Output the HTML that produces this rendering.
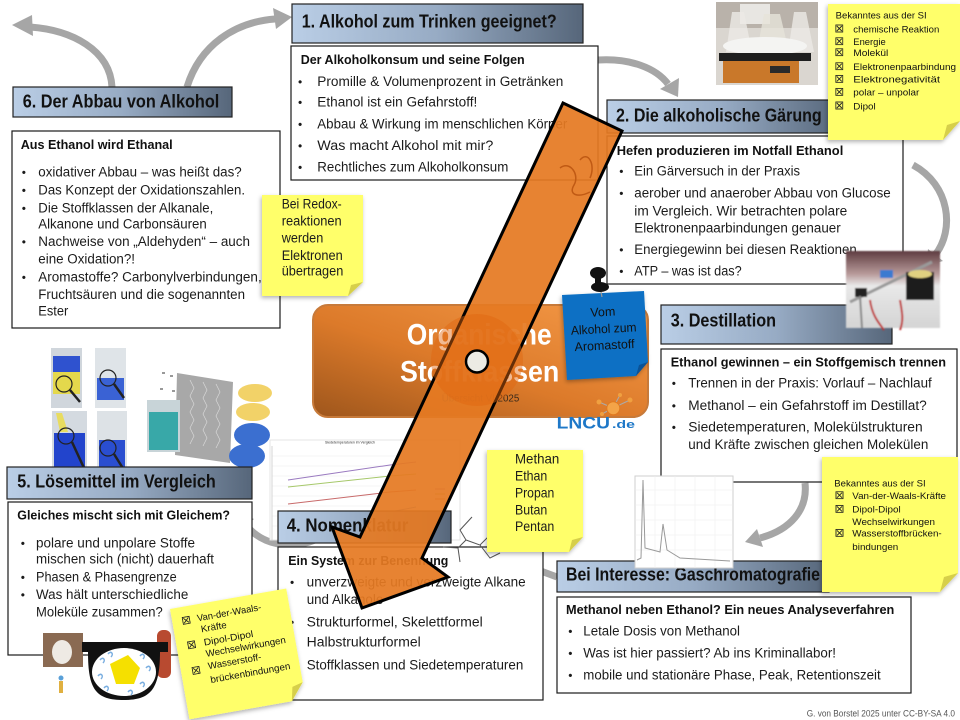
<!DOCTYPE html>
<html><head><meta charset="utf-8"><style>
html,body{margin:0;padding:0;background:#fff;}
svg{display:block;}
text{font-family:"Liberation Sans",sans-serif;}
.t{font-size:13.5px;fill:#1b1b1b}
.tb{font-size:13px;font-weight:bold;fill:#111}
.h{font-size:18px;font-weight:bold;fill:#111}
.bu{font-size:12px;fill:#1b1b1b}
.s{font-size:9.5px;fill:#111}
</style></head><body>
<svg width="960" height="720" viewBox="0 0 960 720" xmlns="http://www.w3.org/2000/svg">
<defs>
<linearGradient id="hg" x1="0" y1="0" x2="1" y2="0">
<stop offset="0" stop-color="#bacee6"/><stop offset="0.5" stop-color="#97abc4"/><stop offset="1" stop-color="#56667a"/>
</linearGradient>
<linearGradient id="og" x1="0" y1="1" x2="1" y2="0">
<stop offset="0" stop-color="#9e561c"/><stop offset="0.45" stop-color="#dc7a2a"/><stop offset="1" stop-color="#f59a48"/>
</linearGradient>
<linearGradient id="dg" x1="0" y1="0" x2="0" y2="1">
<stop offset="0" stop-color="#5e3c40"/><stop offset="0.3" stop-color="#b89a9a"/><stop offset="0.45" stop-color="#e8e8e8"/><stop offset="1" stop-color="#d4d4d4"/>
</linearGradient>
<filter id="sh" x="-20%" y="-20%" width="140%" height="140%"><feDropShadow dx="-1" dy="2" stdDeviation="2" flood-color="#000" flood-opacity="0.3"/></filter>
<filter id="bl" x="-10%" y="-10%" width="120%" height="120%"><feGaussianBlur stdDeviation="0.8"/></filter>
<symbol id="cb" viewBox="0 0 8 8" width="8" height="8"><rect x=".5" y=".5" width="7" height="7" fill="none" stroke="#222" stroke-width=".9"/><path d="M1.5 1.5L6.5 6.5M6.5 1.5L1.5 6.5" stroke="#222" stroke-width=".9"/></symbol>
</defs>

<!-- gray connector arrows -->
<g fill="none" stroke="#a6a6a6" stroke-width="7">
<path d="M112,87 C110,50 72,30 30,27"/>
<path d="M187,87 C200,45 235,22 275,19"/>
<path d="M598,60 C630,58 656,68 668,84"/>
<path d="M913,165 C950,185 955,230 935,255"/>
<path d="M805,483 C808,510 790,530 760,538"/>
<path d="M557,577 L530,567"/>
<path d="M315,540 C290,550 262,545 246,525"/>
</g>
<g fill="#a6a6a6">
<polygon points="12,25 32,15 33,36"/>
<polygon points="292,17 273,8 276,29"/>
<polygon points="678,97 679,78 660,89"/>
<polygon points="926,266 943,261 928,249"/>
<polygon points="745,542 763,547 757,529"/>
<polygon points="515,562 533,559 527,575"/>
<polygon points="236,512 254,519 238,531"/>
</g>

<!-- chart (nomenclature) -->
<g>
<rect x="270" y="440" width="190" height="100" fill="#fff" stroke="#e4e4e4"/>
<text x="325" y="443.5" font-size="3.5" fill="#333" textLength="50" lengthAdjust="spacingAndGlyphs">Siedetemperaturen im Vergleich</text>
<g stroke="#eeeeee" stroke-width=".6"><line x1="272" y1="456" x2="417" y2="456"/><line x1="272" y1="466" x2="417" y2="466"/><line x1="272" y1="476" x2="417" y2="476"/><line x1="272" y1="486" x2="417" y2="486"/><line x1="272" y1="496" x2="417" y2="496"/><line x1="272" y1="506" x2="417" y2="506"/><line x1="272" y1="516" x2="417" y2="516"/><line x1="272" y1="526" x2="417" y2="526"/></g>
<line x1="272" y1="446" x2="272" y2="540" stroke="#bbb" stroke-width=".6"/>
<path d="M288,480 L390,465 L416,462" stroke="#9a7ac0" stroke-width="1" fill="none"/>
<path d="M288,487 L390,476 L416,474" stroke="#a6c86a" stroke-width="1" fill="none"/>
<path d="M288,504 L390,492 L416,490" stroke="#c86a6a" stroke-width="1" fill="none"/>
<path d="M330,540 L390,512 L416,507" stroke="#6a9ad0" stroke-width="1" fill="none"/>
<g stroke-width="1"><line x1="435" y1="489" x2="445" y2="489" stroke="#9a7ac0"/><line x1="435" y1="494" x2="445" y2="494" stroke="#a6c86a"/><line x1="435" y1="499" x2="445" y2="499" stroke="#c86a6a"/></g>
</g>

<!-- jars images -->
<g>
<rect x="51" y="348" width="31" height="60" fill="#d0d6dc"/>
<rect x="53" y="356" width="27" height="16" fill="#2f52cf"/>
<rect x="53" y="372" width="27" height="22" fill="#e4d84c"/>
<rect x="95" y="348" width="31" height="60" fill="#dfe4e8"/>
<rect x="97" y="378" width="27" height="22" fill="#3a62d4"/>
<rect x="52" y="411" width="35" height="61" fill="#d4dae0"/>
<rect x="54" y="433" width="31" height="37" fill="#2244cc"/>
<polygon points="56,413 62,413 68,432 60,432" fill="#e8dc60"/>
<rect x="97" y="411" width="30" height="61" fill="#dde2e6"/>
<rect x="99" y="440" width="26" height="30" fill="#2a4ed0"/>
<g fill="none" stroke="#222" stroke-width="1.2">
<circle cx="64" cy="384" r="8"/><line x1="70" y1="390" x2="80" y2="402" stroke-width="2.5"/>
<circle cx="108" cy="378" r="8"/><line x1="114" y1="384" x2="124" y2="398" stroke-width="2.5"/>
<circle cx="66" cy="436" r="8"/><line x1="72" y1="442" x2="84" y2="468" stroke-width="2.5"/>
<circle cx="108" cy="448" r="8"/><line x1="114" y1="454" x2="124" y2="470" stroke-width="2.5"/>
</g>
<polygon points="177,373 233,382 230,463 175,455" fill="#a8a8a8"/>
<g stroke="#d8d8d8" stroke-width=".7" fill="none"><path d="M190,380 l4,8 l-4,8 l4,8 l-4,8 l4,8 l-4,8 l4,8 l-4,8"/><path d="M203,382 l4,8 l-4,8 l4,8 l-4,8 l4,8 l-4,8 l4,8 l-4,8"/><path d="M216,384 l4,8 l-4,8 l4,8 l-4,8 l4,8 l-4,8 l4,8 l-4,8"/></g>
<rect x="147" y="400" width="33" height="52" fill="#c8d4d8"/>
<rect x="149" y="412" width="29" height="38" fill="#38a8a8"/>
<g fill="#999"><rect x="162" y="372" width="3" height="2"/><rect x="170" y="375" width="3" height="2"/><rect x="160" y="388" width="3" height="2"/><rect x="172" y="390" width="3" height="2"/></g>
<ellipse cx="255" cy="393" rx="17" ry="9" fill="#f2d268"/>
<ellipse cx="253" cy="412" rx="17" ry="9" fill="#f2d268"/>
<ellipse cx="252" cy="435" rx="18" ry="12" fill="#3b6fd0"/>
<ellipse cx="247" cy="456" rx="18" ry="12" fill="#3b6fd0"/>
</g>

<!-- Section 1 -->
<rect x="292" y="4" width="291" height="39" fill="url(#hg)" stroke="#222" stroke-width="1.2"/>
<text class="h" x="301.7" y="27.5" textLength="255" lengthAdjust="spacingAndGlyphs">1. Alkohol zum Trinken geeignet?</text>
<rect x="291" y="46" width="307" height="134" fill="#fff" stroke="#1a1a1a" stroke-width="1.2"/>
<text class="tb" x="300.7" y="64" textLength="224" lengthAdjust="spacingAndGlyphs">Der Alkoholkonsum und seine Folgen</text>
<text class="bu" x="298" y="86">•</text><text class="t" x="317.3" y="86" textLength="246" lengthAdjust="spacingAndGlyphs">Promille &amp; Volumenprozent in Getränken</text>
<text class="bu" x="298" y="106.7">•</text><text class="t" x="317.3" y="106.7" textLength="160" lengthAdjust="spacingAndGlyphs">Ethanol ist ein Gefahrstoff!</text>
<text class="bu" x="298" y="128.3">•</text><text class="t" x="317.3" y="128.3" textLength="250" lengthAdjust="spacingAndGlyphs">Abbau &amp; Wirkung im menschlichen Körper</text>
<text class="bu" x="298" y="150">•</text><text class="t" x="317.3" y="150" textLength="176" lengthAdjust="spacingAndGlyphs">Was macht Alkohol mit mir?</text>
<text class="bu" x="298" y="171.7">•</text><text class="t" x="317.3" y="171.7" textLength="191" lengthAdjust="spacingAndGlyphs">Rechtliches zum Alkoholkonsum</text>

<!-- Section 6 -->
<rect x="13" y="87" width="219" height="30" fill="url(#hg)" stroke="#222" stroke-width="1.2"/>
<text class="h" x="22.7" y="107.3" textLength="196.6" lengthAdjust="spacingAndGlyphs">6. Der Abbau von Alkohol</text>
<rect x="12" y="131" width="268" height="197" fill="#fff" stroke="#1a1a1a" stroke-width="1.2"/>
<text class="tb" x="20.7" y="149" textLength="152" lengthAdjust="spacingAndGlyphs">Aus Ethanol wird Ethanal</text>
<text class="bu" x="21.7" y="176.7">•</text><text class="t" x="38.3" y="176.7" textLength="203.4" lengthAdjust="spacingAndGlyphs">oxidativer Abbau – was heißt das?</text>
<text class="bu" x="21.7" y="194.3">•</text><text class="t" x="38.3" y="194.3" textLength="206.7" lengthAdjust="spacingAndGlyphs">Das Konzept der Oxidationszahlen.</text>
<text class="bu" x="21.7" y="212.3">•</text><text class="t" x="38.3" y="212.3" textLength="175" lengthAdjust="spacingAndGlyphs">Die Stoffklassen der Alkanale,</text>
<text class="t" x="38.3" y="228.3" textLength="168.4" lengthAdjust="spacingAndGlyphs">Alkanone und Carbonsäuren</text>
<text class="bu" x="21.7" y="246">•</text><text class="t" x="38.3" y="246" textLength="211.7" lengthAdjust="spacingAndGlyphs">Nachweise von „Aldehyden“ – auch</text>
<text class="t" x="38.3" y="263.3" textLength="96.7" lengthAdjust="spacingAndGlyphs">eine Oxidation?!</text>
<text class="bu" x="21.7" y="281.7">•</text><text class="t" x="38.3" y="281.7" textLength="223.4" lengthAdjust="spacingAndGlyphs">Aromastoffe? Carbonylverbindungen,</text>
<text class="t" x="38.3" y="299" textLength="206.7" lengthAdjust="spacingAndGlyphs">Fruchtsäuren und die sogenannten</text>
<text class="t" x="38.3" y="315.7" textLength="30" lengthAdjust="spacingAndGlyphs">Ester</text>

<!-- Section 2 -->
<rect x="607" y="100" width="232" height="33" fill="url(#hg)" stroke="#222" stroke-width="1.2"/>
<text class="h" x="616" y="121.7" textLength="205.7" lengthAdjust="spacingAndGlyphs">2. Die alkoholische Gärung</text>
<rect x="607" y="136" width="296" height="148" fill="#fff" stroke="#1a1a1a" stroke-width="1.2"/>
<text class="tb" x="616.7" y="155" textLength="226.6" lengthAdjust="spacingAndGlyphs">Hefen produzieren im Notfall Ethanol</text>
<text class="bu" x="619.3" y="175.7">•</text><text class="t" x="634.3" y="175.7" textLength="165.7" lengthAdjust="spacingAndGlyphs">Ein Gärversuch in der Praxis</text>
<text class="bu" x="619.3" y="197.3">•</text><text class="t" x="634.3" y="197.3" textLength="256.4" lengthAdjust="spacingAndGlyphs">aerober und anaerober Abbau von Glucose</text>
<text class="t" x="634.3" y="215.7" textLength="213" lengthAdjust="spacingAndGlyphs">im Vergleich. Wir betrachten polare</text>
<text class="t" x="634.3" y="232.7" textLength="206.4" lengthAdjust="spacingAndGlyphs">Elektronenpaarbindungen genauer</text>
<text class="bu" x="619.3" y="254">•</text><text class="t" x="634.3" y="254" textLength="222.4" lengthAdjust="spacingAndGlyphs">Energiegewinn bei diesen Reaktionen</text>
<text class="bu" x="619.3" y="275.7">•</text><text class="t" x="634.3" y="275.7" textLength="107.4" lengthAdjust="spacingAndGlyphs">ATP – was ist das?</text>

<!-- Section 3 -->
<rect x="661" y="305" width="231" height="39" fill="url(#hg)" stroke="#222" stroke-width="1.2"/>
<text class="h" x="670.7" y="326.7" textLength="105.3" lengthAdjust="spacingAndGlyphs">3. Destillation</text>
<rect x="661" y="349" width="296" height="133" fill="#fff" stroke="#1a1a1a" stroke-width="1.2"/>
<text class="tb" x="670.7" y="366.7" textLength="275.3" lengthAdjust="spacingAndGlyphs">Ethanol gewinnen – ein Stoffgemisch trennen</text>
<text class="bu" x="671.7" y="387.3">•</text><text class="t" x="688.3" y="387.3" textLength="243.4" lengthAdjust="spacingAndGlyphs">Trennen in der Praxis: Vorlauf – Nachlauf</text>
<text class="bu" x="671.7" y="410">•</text><text class="t" x="688.3" y="410" textLength="238.4" lengthAdjust="spacingAndGlyphs">Methanol – ein Gefahrstoff im Destillat?</text>
<text class="bu" x="671.7" y="431.7">•</text><text class="t" x="688.3" y="431.7" textLength="234.4" lengthAdjust="spacingAndGlyphs">Siedetemperaturen, Molekülstrukturen</text>
<text class="t" x="688.3" y="449" textLength="240" lengthAdjust="spacingAndGlyphs">und Kräfte zwischen gleichen Molekülen</text>

<!-- Section GC -->
<rect x="557" y="561" width="272" height="31" fill="url(#hg)" stroke="#222" stroke-width="1.2"/>
<text class="h" x="566" y="580.7" textLength="254" lengthAdjust="spacingAndGlyphs">Bei Interesse: Gaschromatografie</text>
<rect x="557" y="597" width="354" height="96" fill="#fff" stroke="#1a1a1a" stroke-width="1.2"/>
<text class="tb" x="566" y="614" textLength="328.3" lengthAdjust="spacingAndGlyphs">Methanol neben Ethanol? Ein neues Analyseverfahren</text>
<text class="bu" x="568.3" y="635.7">•</text><text class="t" x="583.3" y="635.7" textLength="156.7" lengthAdjust="spacingAndGlyphs">Letale Dosis von Methanol</text>
<text class="bu" x="568.3" y="657.7">•</text><text class="t" x="583.3" y="657.7" textLength="252.7" lengthAdjust="spacingAndGlyphs">Was ist hier passiert? Ab ins Kriminallabor!</text>
<text class="bu" x="568.3" y="679.3">•</text><text class="t" x="583.3" y="679.3" textLength="297.4" lengthAdjust="spacingAndGlyphs">mobile und stationäre Phase, Peak, Retentionszeit</text>

<!-- Section 4 -->
<rect x="278" y="511" width="173" height="32" fill="url(#hg)" stroke="#222" stroke-width="1.2"/>
<text class="h" x="286.7" y="531.7" textLength="121.6" lengthAdjust="spacingAndGlyphs">4. Nomenklatur</text>
<rect x="278" y="547" width="265" height="153" fill="#fff" stroke="#1a1a1a" stroke-width="1.2"/>
<text class="tb" x="288.3" y="565" textLength="160" lengthAdjust="spacingAndGlyphs">Ein System zur Benennung</text>
<text class="bu" x="290" y="586.7">•</text><text class="t" x="306.7" y="586.7" textLength="219" lengthAdjust="spacingAndGlyphs">unverzweigte und verzweigte Alkane</text>
<text class="t" x="306.7" y="604" textLength="76.6" lengthAdjust="spacingAndGlyphs">und Alkanole</text>
<text class="bu" x="290" y="626.7">•</text><text class="t" x="306.7" y="626.7" textLength="176" lengthAdjust="spacingAndGlyphs">Strukturformel, Skelettformel</text>
<text class="bu" x="290" y="646.7">•</text><text class="t" x="306.7" y="646.7" textLength="114" lengthAdjust="spacingAndGlyphs">Halbstrukturformel</text>
<text class="bu" x="290" y="669.3">•</text><text class="t" x="306.7" y="669.3" textLength="216.6" lengthAdjust="spacingAndGlyphs">Stoffklassen und Siedetemperaturen</text>
<g stroke="#555" stroke-width="1" fill="none">
<path d="M443,547 L458,548 L466,540 L480,545 L490,558 L500,553"/>
<path d="M466,540 L460,530 L472,517"/>
<path d="M458,548 L460,562"/>
<path d="M480,545 L490,535"/>
</g>

<!-- Section 5 -->
<rect x="7" y="467" width="245" height="32" fill="url(#hg)" stroke="#222" stroke-width="1.2"/>
<text class="h" x="17.3" y="487.3" textLength="198.4" lengthAdjust="spacingAndGlyphs">5. Lösemittel im Vergleich</text>
<rect x="8" y="502" width="244" height="153" fill="#fff" stroke="#1a1a1a" stroke-width="1.2"/>
<text class="tb" x="17.3" y="519.3" textLength="212.7" lengthAdjust="spacingAndGlyphs">Gleiches mischt sich mit Gleichem?</text>
<text class="bu" x="20.7" y="547.3">•</text><text class="t" x="36" y="547.3" textLength="159" lengthAdjust="spacingAndGlyphs">polare und unpolare Stoffe</text>
<text class="t" x="36" y="563.3" textLength="178" lengthAdjust="spacingAndGlyphs">mischen sich (nicht) dauerhaft</text>
<text class="bu" x="20.7" y="581.7">•</text><text class="t" x="36" y="581.7" textLength="140.7" lengthAdjust="spacingAndGlyphs">Phasen &amp; Phasengrenze</text>
<text class="bu" x="20.7" y="599">•</text><text class="t" x="36" y="599" textLength="152.3" lengthAdjust="spacingAndGlyphs">Was hält unterschiedliche</text>
<text class="t" x="36" y="616.7" textLength="126.7" lengthAdjust="spacingAndGlyphs">Moleküle zusammen?</text>

<!-- glasses etc -->
<g>
<rect x="43" y="633" width="40" height="34" fill="#8a6a52"/>
<ellipse cx="62" cy="652" rx="10" ry="12" fill="#eeeae4"/>
<rect x="157" y="630" width="14" height="48" rx="6" fill="#b84a30"/>
<path d="M82,642 L168,642 L168,652 L160,652 C160,690 150,700 124,700 C96,700 88,690 88,652 L82,652 Z" fill="#111"/>
<ellipse cx="124" cy="672" rx="32" ry="24" fill="#fff"/>
<g fill="none" stroke="#7aaee0" stroke-width="1.5">
<path d="M100,660 c3,-4 6,0 3,3"/><path d="M108,654 c3,-4 6,0 3,3"/><path d="M140,656 c3,-4 6,0 3,3"/><path d="M146,668 c3,-4 6,0 3,3"/><path d="M98,676 c3,-4 6,0 3,3"/><path d="M104,688 c3,-4 6,0 3,3"/><path d="M140,684 c3,-4 6,0 3,3"/><path d="M128,692 c3,-4 6,0 3,3"/>
</g>
<polygon points="110,664 128,655 140,668 134,684 116,684" fill="#f5e000"/>
<circle cx="61" cy="678" r="2.5" fill="#5aa0d8"/>
<rect x="59" y="681" width="4" height="12" fill="#e0b040"/>
</g>

<!-- Central box -->
<rect x="313" y="305" width="335" height="112" rx="15" fill="url(#og)" stroke="#c77a3a" stroke-width="2"/>
<text x="406.7" y="344.3" font-size="30" font-weight="bold" fill="#fff" textLength="145" lengthAdjust="spacingAndGlyphs">Organische</text>
<text x="400" y="381.7" font-size="30" font-weight="bold" fill="#fff" textLength="159.3" lengthAdjust="spacingAndGlyphs">Stoffklassen</text>
<text x="441.7" y="401.7" font-size="10" fill="#3a2a1a" textLength="77.6" lengthAdjust="spacingAndGlyphs">Übersicht VI 2025</text>

<!-- flasks photo -->
<g>
<rect x="716" y="2" width="102" height="83" fill="#dad6d0"/>
<rect x="716" y="2" width="102" height="26" fill="#b9b2aa"/>
<rect x="740" y="4" width="30" height="20" fill="#e8e6e2"/>
<polygon points="732,12 744,12 752,52 726,52" fill="#eceae6" opacity=".8"/>
<polygon points="764,14 780,14 790,56 756,56" fill="#e6e4da" opacity=".8"/>
<rect x="760" y="40" width="26" height="15" fill="#b8b060"/>
<polygon points="794,12 806,12 814,52 788,52" fill="#eceae6" opacity=".8"/>
<ellipse cx="765" cy="46" rx="42" ry="9" fill="#f4f4f2"/>
<rect x="719" y="53" width="92" height="8" fill="#1e1e1e"/>
<rect x="723" y="61" width="76" height="22" fill="#c9782a"/>
<rect x="770" y="66" width="20" height="7" fill="#2a2a2a"/>
</g>

<!-- distillation photo -->
<g filter="url(#bl)">
<rect x="846" y="251" width="94" height="77" fill="url(#dg)"/>
<line x1="850" y1="302" x2="932" y2="262" stroke="#9a9a9a" stroke-width="3"/>
<rect x="855" y="288" width="12" height="9" fill="#222"/>
<rect x="880" y="270" width="13" height="8" fill="#3a7ad0"/>
<rect x="906" y="272" width="28" height="28" fill="#1e1e1e"/>
<ellipse cx="920" cy="274" rx="12" ry="4" fill="#e0d080"/>
<path d="M870,300 C872,315 878,322 884,330" stroke="#c03030" stroke-width="2" fill="none"/>
<path d="M900,300 C902,312 904,320 900,330" stroke="#c03030" stroke-width="2" fill="none"/>
<line x1="860" y1="296" x2="862" y2="328" stroke="#888" stroke-width="2"/>
</g>

<!-- chromatogram -->
<g>
<rect x="635" y="476" width="98" height="92" fill="#fff" stroke="#cfcfcf"/>
<g stroke="#eeeeee" stroke-width=".6"><line x1="635" y1="490" x2="733" y2="490"/><line x1="635" y1="505" x2="733" y2="505"/><line x1="635" y1="520" x2="733" y2="520"/><line x1="635" y1="535" x2="733" y2="535"/><line x1="635" y1="550" x2="733" y2="550"/><line x1="655" y1="476" x2="655" y2="568"/><line x1="675" y1="476" x2="675" y2="568"/><line x1="695" y1="476" x2="695" y2="568"/><line x1="715" y1="476" x2="715" y2="568"/></g>
<path d="M637,560 L641,558 L643,480 L645,548 L660,552 L663,524 L667,550 L680,558 L730,561" stroke="#999" stroke-width="1" fill="none"/>
</g>

<!-- stickies -->
<g filter="url(#sh)">
<path d="M262,195 L363,195 L363,282 L348,296 L262,296 Z" fill="#ffff6a"/>
</g>
<polygon points="363,282 348,296 351,285" fill="#d6cf4a"/>
<text x="281.7" y="208.3" font-size="13.5" fill="#1b1b1b" textLength="60" lengthAdjust="spacingAndGlyphs">Bei Redox-</text>
<text x="281.7" y="225.7" font-size="13.5" fill="#1b1b1b" textLength="60" lengthAdjust="spacingAndGlyphs">reaktionen</text>
<text x="281.7" y="242.3" font-size="13.5" fill="#1b1b1b" textLength="41.6" lengthAdjust="spacingAndGlyphs">werden</text>
<text x="281.7" y="260" font-size="13.5" fill="#1b1b1b" textLength="61" lengthAdjust="spacingAndGlyphs">Elektronen</text>
<text x="281.7" y="275.7" font-size="13.5" fill="#1b1b1b" textLength="61.6" lengthAdjust="spacingAndGlyphs">übertragen</text>

<g filter="url(#sh)">
<path d="M828,4 L960,4 L960,121 L943,140 L828,140 Z" fill="#ffff6a"/>
</g>
<polygon points="960,121 943,140 947,125" fill="#d6cf4a"/>
<text class="s" x="835.7" y="18.3" textLength="91" lengthAdjust="spacingAndGlyphs">Bekanntes aus der SI</text>
<use href="#cb" x="835.3" y="24.5"/><text class="s" x="853.3" y="32.3" textLength="86" lengthAdjust="spacingAndGlyphs">chemische Reaktion</text>
<use href="#cb" x="835.3" y="37.2"/><text class="s" x="853.3" y="45" textLength="32.4" lengthAdjust="spacingAndGlyphs">Energie</text>
<use href="#cb" x="835.3" y="48.2"/><text class="s" x="853.3" y="56" textLength="35" lengthAdjust="spacingAndGlyphs">Molekül</text>
<use href="#cb" x="835.3" y="62.2"/><text class="s" x="853.3" y="70" textLength="102.7" lengthAdjust="spacingAndGlyphs">Elektronenpaarbindung</text>
<use href="#cb" x="835.3" y="74.9"/><text class="s" x="853.3" y="82.7" textLength="86.7" lengthAdjust="spacingAndGlyphs">Elektronegativität</text>
<use href="#cb" x="835.3" y="87.9"/><text class="s" x="853.3" y="95.7" textLength="66" lengthAdjust="spacingAndGlyphs">polar – unpolar</text>
<use href="#cb" x="835.3" y="101.5"/><text class="s" x="853.3" y="109.3" textLength="22.4" lengthAdjust="spacingAndGlyphs">Dipol</text>

<g filter="url(#sh)">
<path d="M822,457 L958,457 L958,573 L940,592 L822,592 Z" fill="#ffff6a"/>
</g>
<polygon points="958,573 940,592 944,577" fill="#d6cf4a"/>
<text class="s" x="834.3" y="486.7" textLength="91.4" lengthAdjust="spacingAndGlyphs">Bekanntes aus der SI</text>
<use href="#cb" x="835.5" y="491.2"/><text class="s" x="852.3" y="499" textLength="93.7" lengthAdjust="spacingAndGlyphs">Van-der-Waals-Kräfte</text>
<use href="#cb" x="835.5" y="504.9"/><text class="s" x="852.3" y="512.7" textLength="48.4" lengthAdjust="spacingAndGlyphs">Dipol-Dipol</text>
<text class="s" x="852.3" y="525" textLength="82.7" lengthAdjust="spacingAndGlyphs">Wechselwirkungen</text>
<use href="#cb" x="835.5" y="528.9"/><text class="s" x="852.3" y="536.7" textLength="89.4" lengthAdjust="spacingAndGlyphs">Wasserstoffbrücken-</text>
<text class="s" x="852.3" y="550" textLength="46" lengthAdjust="spacingAndGlyphs">bindungen</text>

<g filter="url(#sh)">
<path d="M487,450 L583,450 L583,537 L569,552 L487,552 Z" fill="#ffff6a"/>
</g>
<polygon points="583,537 569,552 572,540" fill="#d6cf4a"/>
<text x="515" y="463.3" font-size="14" fill="#1b1b1b" textLength="44.3" lengthAdjust="spacingAndGlyphs">Methan</text>
<text x="515" y="480.7" font-size="14" fill="#1b1b1b" textLength="32.3" lengthAdjust="spacingAndGlyphs">Ethan</text>
<text x="515" y="497.7" font-size="14" fill="#1b1b1b" textLength="39.3" lengthAdjust="spacingAndGlyphs">Propan</text>
<text x="515" y="514.3" font-size="14" fill="#1b1b1b" textLength="32.3" lengthAdjust="spacingAndGlyphs">Butan</text>
<text x="515" y="531" font-size="14" fill="#1b1b1b" textLength="39.3" lengthAdjust="spacingAndGlyphs">Pentan</text>

<g transform="translate(170,609) rotate(-10)">
<g filter="url(#sh)"><path d="M0,0 L118,0 L118,95 L104,112 L0,112 Z" fill="#ffff6a"/></g>
<polygon points="118,95 104,112 107,98" fill="#d6cf4a"/>
<use href="#cb" x="10" y="10"/><text x="25" y="17" font-size="9.5" fill="#111" textLength="65" lengthAdjust="spacingAndGlyphs">Van-der-Waals-</text>
<text x="27" y="28.5" font-size="9.5" fill="#111" textLength="26" lengthAdjust="spacingAndGlyphs">Kräfte</text>
<use href="#cb" x="11" y="35"/><text x="27.5" y="42" font-size="9.5" fill="#111" textLength="50" lengthAdjust="spacingAndGlyphs">Dipol-Dipol</text>
<text x="27.5" y="53.5" font-size="9.5" fill="#111" textLength="81" lengthAdjust="spacingAndGlyphs">Wechselwirkungen</text>
<use href="#cb" x="11" y="61"/><text x="27.5" y="66" font-size="9.5" fill="#111" textLength="54" lengthAdjust="spacingAndGlyphs">Wasserstoff-</text>
<text x="27.5" y="80" font-size="9.5" fill="#111" textLength="81" lengthAdjust="spacingAndGlyphs">brückenbindungen</text>
</g>

<!-- blue sticky -->
<g filter="url(#sh)">
<path d="M562,295 L644,291 L648,362 L636,376 L567,380 Z" fill="#0a70c4"/>
</g>
<polygon points="648,362 636,376 639,365" fill="#0a5296"/>
<g transform="rotate(-3 605 335)">
<text x="604" y="316" font-size="12.5" fill="#111" text-anchor="middle" textLength="25" lengthAdjust="spacingAndGlyphs">Vom</text>
<text x="604" y="333" font-size="12.5" fill="#111" text-anchor="middle" textLength="65.7" lengthAdjust="spacingAndGlyphs">Alkohol zum</text>
<text x="604" y="349.5" font-size="12.5" fill="#111" text-anchor="middle" textLength="60" lengthAdjust="spacingAndGlyphs">Aromastoff</text>
</g>
<line x1="600" y1="287" x2="602" y2="297" stroke="#999" stroke-width="1.2"/>
<ellipse cx="598" cy="273" rx="8" ry="6" fill="#111"/>
<rect x="595" y="276" width="6" height="8" fill="#111"/>
<ellipse cx="600" cy="287" rx="9" ry="5" fill="#111"/>

<!-- big arrow -->
<polygon points="563,103 622,131 422,558 448,577 362,608 332,527 360,537" fill="#e57a22" fill-opacity="0.93" stroke="#000" stroke-width="3" stroke-linejoin="miter"/>
<path d="M560,168 C570,160 580,175 574,185 C568,195 578,198 590,192 M580,160 C588,150 596,165 590,178" stroke="#c05a14" stroke-width="1.5" fill="none"/>
<circle cx="477" cy="360" r="46" fill="#e06610" fill-opacity="0.45"/>
<circle cx="477" cy="361.5" r="11" fill="#ecebe4" stroke="#000" stroke-width="2.5"/>

<!-- LNCU logo -->
<g>
<g stroke="#aaa" stroke-width="1"><line x1="613" y1="408" x2="599" y2="402"/><line x1="613" y1="408" x2="630" y2="400"/><line x1="613" y1="408" x2="620" y2="395"/><line x1="613" y1="408" x2="602" y2="414"/></g>
<g fill="#f0a040"><circle cx="599" cy="402" r="2.5"/><circle cx="630" cy="400" r="2.5"/><circle cx="620" cy="395" r="2"/><circle cx="602" cy="414" r="2"/></g>
<circle cx="613.3" cy="408.3" r="6.5" fill="#f3a448" stroke="#e07a20" stroke-width="1"/>
<text x="556.7" y="428.3" font-size="17" font-weight="bold" fill="#1e78c8" textLength="53.3" lengthAdjust="spacingAndGlyphs">LNCU</text>
<text x="612" y="428" font-size="11" font-weight="bold" fill="#1e78c8" textLength="23" lengthAdjust="spacingAndGlyphs">.de</text>
</g>

<!-- footer -->
<text x="806.7" y="716.7" font-size="9" fill="#555" textLength="148.3" lengthAdjust="spacingAndGlyphs">G. von Borstel 2025 unter CC-BY-SA 4.0</text>
</svg>
</body></html>
